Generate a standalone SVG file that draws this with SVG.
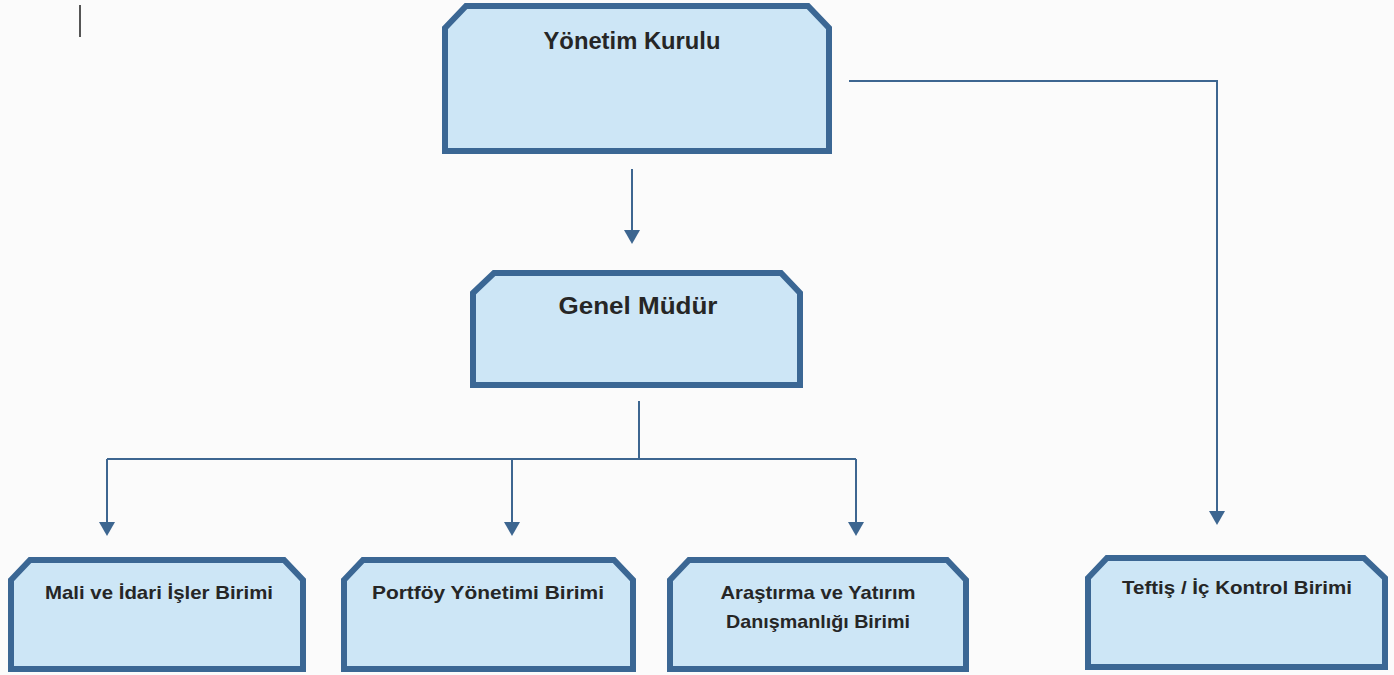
<svg xmlns="http://www.w3.org/2000/svg" width="1394" height="675" viewBox="0 0 1394 675">
  <defs>
    <marker id="arrow" viewBox="0 0 14 16" refX="12" refY="8" markerWidth="14" markerHeight="16" markerUnits="userSpaceOnUse" orient="auto">
      <path d="M0,0 L14,8 L0,16 Z" fill="#3d6690"/>
    </marker>
  </defs>
  <style>
    .box { fill: #cde6f6; stroke: #3b6794; stroke-width: 6; stroke-linejoin: miter; }
    .big { font-family: "Liberation Sans", Arial, sans-serif; font-weight: 700; font-size: 23px; fill: #262626; text-anchor: middle; }
    .small { font-family: "Liberation Sans", Arial, sans-serif; font-weight: 700; font-size: 18.5px; fill: #262626; text-anchor: middle; }
    .conn { fill: none; stroke: #3d6690; stroke-width: 2; }
  </style>
  <rect x="0" y="0" width="1394" height="675" fill="#fbfbfb"/>
  <line x1="80" y1="5" x2="80" y2="37" stroke="#555" stroke-width="2"/>

  <g id="connectors">
    <path class="conn" d="M632,169 L632,242" marker-end="url(#arrow)"/>
    <path class="conn" d="M849,81 L1217,81 L1217,523" marker-end="url(#arrow)"/>
    <path class="conn" d="M639,401 L639,459"/>
    <path class="conn" d="M107,459 L856,459"/>
    <path class="conn" d="M107,459 L107,534" marker-end="url(#arrow)"/>
    <path class="conn" d="M512,459 L512,534" marker-end="url(#arrow)"/>
    <path class="conn" d="M856,459 L856,534" marker-end="url(#arrow)"/>
  </g>

  <g id="yonetim-kurulu">
    <path class="box" d="M445,28 L466,6 L808,6 L829,28 L829,151 L445,151 Z"/>
    <text class="big" x="632" y="49" textLength="177" lengthAdjust="spacingAndGlyphs">Yönetim Kurulu</text>
  </g>

  <g id="genel-mudur">
    <path class="box" d="M473,293 L494,273 L781,273 L800,293 L800,385 L473,385 Z"/>
    <text class="big" x="638" y="314" textLength="159" lengthAdjust="spacingAndGlyphs">Genel Müdür</text>
  </g>

  <g id="mali-idari">
    <path class="box" d="M11,580 L30,560 L284,560 L303,580 L303,669 L11,669 Z"/>
    <text class="small" x="159" y="599" textLength="228" lengthAdjust="spacingAndGlyphs">Mali ve İdari İşler Birimi</text>
  </g>

  <g id="portfoy-yonetimi">
    <path class="box" d="M344,580 L363,560 L614,560 L633,580 L633,669 L344,669 Z"/>
    <text class="small" x="488" y="599" textLength="232" lengthAdjust="spacingAndGlyphs">Portföy Yönetimi Birimi</text>
  </g>

  <g id="arastirma-yatirim">
    <path class="box" d="M670,580 L689,560 L947,560 L966,580 L966,669 L670,669 Z"/>
    <text class="small" x="818" y="599" textLength="195" lengthAdjust="spacingAndGlyphs">Araştırma ve Yatırım</text>
    <text class="small" x="818" y="628" textLength="184" lengthAdjust="spacingAndGlyphs">Danışmanlığı Birimi</text>
  </g>

  <g id="teftis-ic-kontrol">
    <path class="box" d="M1088,578 L1107,558 L1364,558 L1385,578 L1385,667 L1088,667 Z"/>
    <text class="small" x="1237" y="594" textLength="230" lengthAdjust="spacingAndGlyphs">Teftiş / İç Kontrol Birimi</text>
  </g>
</svg>
